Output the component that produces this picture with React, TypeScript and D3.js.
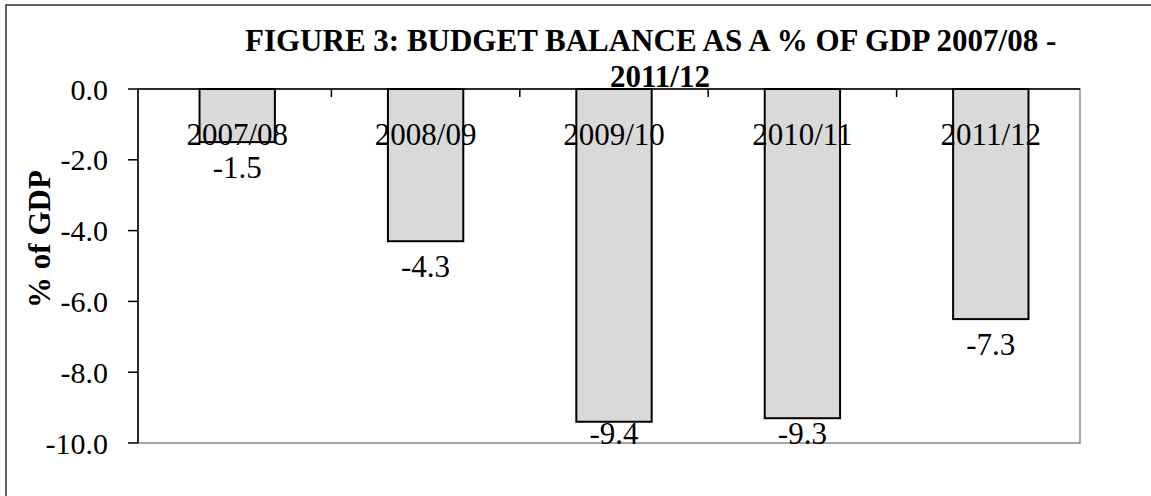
import React from "react";
import * as d3 from "d3";

const categories = ["2007/08", "2008/09", "2009/10", "2010/11", "2011/12"];
const barValues = [-1.5, -4.3, -9.4, -9.3, -6.5];
const dataLabels = ["-1.5", "-4.3", "-9.4", "-9.3", "-7.3"];
const yTicks = [0, -2, -4, -6, -8, -10];
const titleLine1 = "FIGURE 3: BUDGET BALANCE AS A % OF GDP 2007/08 -";
const titleLine2 = "2011/12";
const yAxisTitle = "% of GDP";

export default function App() {
  const W = 1151;
  const H = 496;
  const left = 138;
  const right = 1080;
  const top = 89;
  const bottom = 443;
  const font = "'Liberation Serif', 'Times New Roman', serif";

  const x = d3
    .scaleBand<string>()
    .domain(categories)
    .range([left + 5, right + 5])
    .paddingInner(0.6)
    .paddingOuter(0.3);
  const y = d3.scaleLinear().domain([-10, 0]).range([bottom, top]);
  const step = x.step();
  const boundaries = categories.slice(1).map((c) => (x(c) as number) - (step * 0.6) / 2);

  return (
    <svg
      width={W}
      height={H}
      style={{ position: "absolute", left: 0, top: 0, background: "#fff" }}
      fontFamily={font}
    >
      <rect x={6} y={5} width={W + 10} height={H + 10} fill="#fff" stroke="#333" strokeWidth={1.5} />
      {/* plot area */}
      <rect x={left} y={top} width={right - left} height={bottom - top} fill="#fff" stroke="#888" strokeWidth={1.5} />
      {/* title */}
      <text x={245} y={51} fontSize={31} fontWeight="bold" fill="#000">
        {titleLine1}
      </text>
      <text x={660} y={87} fontSize={31} fontWeight="bold" fill="#000" textAnchor="middle">
        {titleLine2}
      </text>
      {/* y axis title */}
      <text
        transform={`translate(50, 239) rotate(-90)`}
        fontSize={31}
        fontWeight="bold"
        textAnchor="middle"
        fill="#000"
      >
        {yAxisTitle}
      </text>
      {/* bar fills */}
      {categories.map((c, i) => (
        <rect
          key={c}
          x={x(c)}
          y={y(0)}
          width={x.bandwidth()}
          height={y(barValues[i]) - y(0)}
          fill="#d9d9d9"
        />
      ))}
      {/* category labels */}
      {categories.map((c) => (
        <text
          key={c}
          x={(x(c) as number) + x.bandwidth() / 2}
          y={145}
          textAnchor="middle"
          fontSize={31}
          fill="#000"
        >
          {c}
        </text>
      ))}
      {/* bar outlines */}
      {categories.map((c, i) => (
        <rect
          key={c}
          x={x(c)}
          y={y(0)}
          width={x.bandwidth()}
          height={y(barValues[i]) - y(0)}
          fill="none"
          stroke="#000"
          strokeWidth={2}
        />
      ))}
      {/* y axis */}
      <line x1={left} x2={left} y1={top} y2={bottom} stroke="#000" strokeWidth={1.5} />
      {yTicks.map((t) => (
        <g key={t}>
          <line x1={left - 10} x2={left} y1={y(t)} y2={y(t)} stroke="#000" strokeWidth={1.5} />
          <text x={108} y={y(t)} dy="0.35em" textAnchor="end" fontSize={30} fill="#000">
            {d3.format(".1f")(t).replace("−", "-")}
          </text>
        </g>
      ))}
      {/* x axis at zero */}
      <line x1={left} x2={right} y1={y(0)} y2={y(0)} stroke="#000" strokeWidth={1.5} />
      {boundaries.map((b, i) => (
        <line key={i} x1={b} x2={b} y1={y(0)} y2={y(0) + 8} stroke="#000" strokeWidth={1.5} />
      ))}
      {/* data labels */}
      {categories.map((c, i) => (
        <text
          key={c}
          x={(x(c) as number) + x.bandwidth() / 2}
          y={Math.min(y(barValues[i]) + 36, 444)}
          textAnchor="middle"
          fontSize={31}
          fill="#000"
        >
          {dataLabels[i]}
        </text>
      ))}
    </svg>
  );
}
